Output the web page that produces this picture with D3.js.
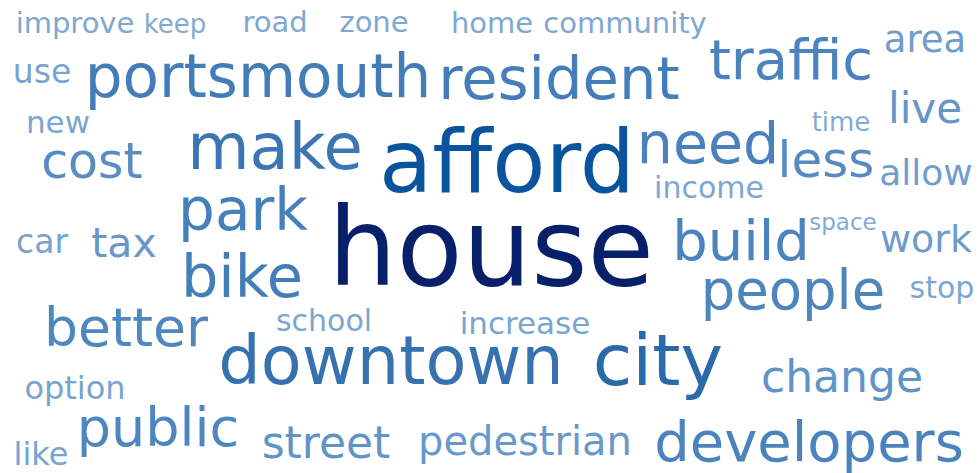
<!DOCTYPE html>
<html>
<head>
<meta charset="utf-8">
<script src="https://d3js.org/d3.v7.min.js"></script>
<style>
  body { margin: 0; background: #fff; }
  .cloud text { font-family: "DejaVu Sans", sans-serif; }
</style>
</head>
<body>
<div id="cloud"></div>
<script>
// word list and frequency weights
var words = ["house", "afford", "portsmouth", "resident", "traffic", "area", "live", "time",
  "need", "less", "allow", "income", "space", "build", "work", "people", "stop", "increase",
  "city", "change", "developers", "pedestrian", "downtown", "school", "better", "option",
  "public", "street", "like", "car", "tax", "park", "bike", "cost", "make", "use", "new",
  "improve", "keep", "road", "zone", "home", "community"];
var counts = [54, 43.5, 29.8, 29.6, 28, 18.5, 21, 13, 28.5, 25, 18, 15, 11.5, 28, 19, 27.2, 15, 15.5,
  36, 22, 28, 20, 33.5, 15, 26.8, 16, 27, 22, 16, 16.5, 20.5, 29, 29.5, 24.5, 32, 16.5, 15.5,
  14.5, 13, 14.5, 14.5, 14.5, 14.5];

// cloud layout: word centre and baseline
var cloudX = [491, 507, 258, 559, 791, 925, 925, 841, 708, 826, 926, 709, 843, 741, 926, 793, 942, 525,
  658, 842, 809, 525, 391, 324, 126, 75, 158, 326, 41, 42, 124, 243, 242, 92, 275, 42, 58,
  75, 175, 275, 374, 492, 625];
var cloudY = [285, 192, 97, 99, 79, 52, 123, 131, 163, 177, 185, 198, 230, 260, 252, 309, 298, 334,
  385, 392, 461, 455, 384, 331, 346, 399, 446, 458, 465, 253, 257, 230, 297, 178, 169, 83, 133,
  33, 33, 32, 32, 33, 33];

var width = 978, height = 473;

var x = d3.scaleLinear().domain([0, 978]).range([0, width]);
var y = d3.scaleLinear().domain([0, 473]).range([0, height]);
var size = d3.scaleLinear().domain([0, d3.max(counts)]).range([0, 108]);
var color = d3.scaleLinear()
  .domain([13, 27, 34, 44, 54])
  .range(["#84acd3", "#4e86bf", "#3370ae", "#08519c", "#08206a"])
  .clamp(true);

var data = words.map(function(w, i) {
  return { text: w, count: counts[i], cx: cloudX[i], cy: cloudY[i] };
});

var svg = d3.select("#cloud").append("svg")
  .attr("width", width)
  .attr("height", height);

svg.append("g")
  .attr("class", "cloud")
  .selectAll("text")
  .data(data)
  .enter().append("text")
  .attr("x", function(d) { return x(d.cx); })
  .attr("y", function(d) { return y(d.cy); })
  .attr("text-anchor", "middle")
  .attr("font-size", function(d) { return size(d.count) + "px"; })
  .attr("fill", function(d) { return color(d.count); })
  .text(function(d) { return d.text; });
</script>
</body>
</html>
